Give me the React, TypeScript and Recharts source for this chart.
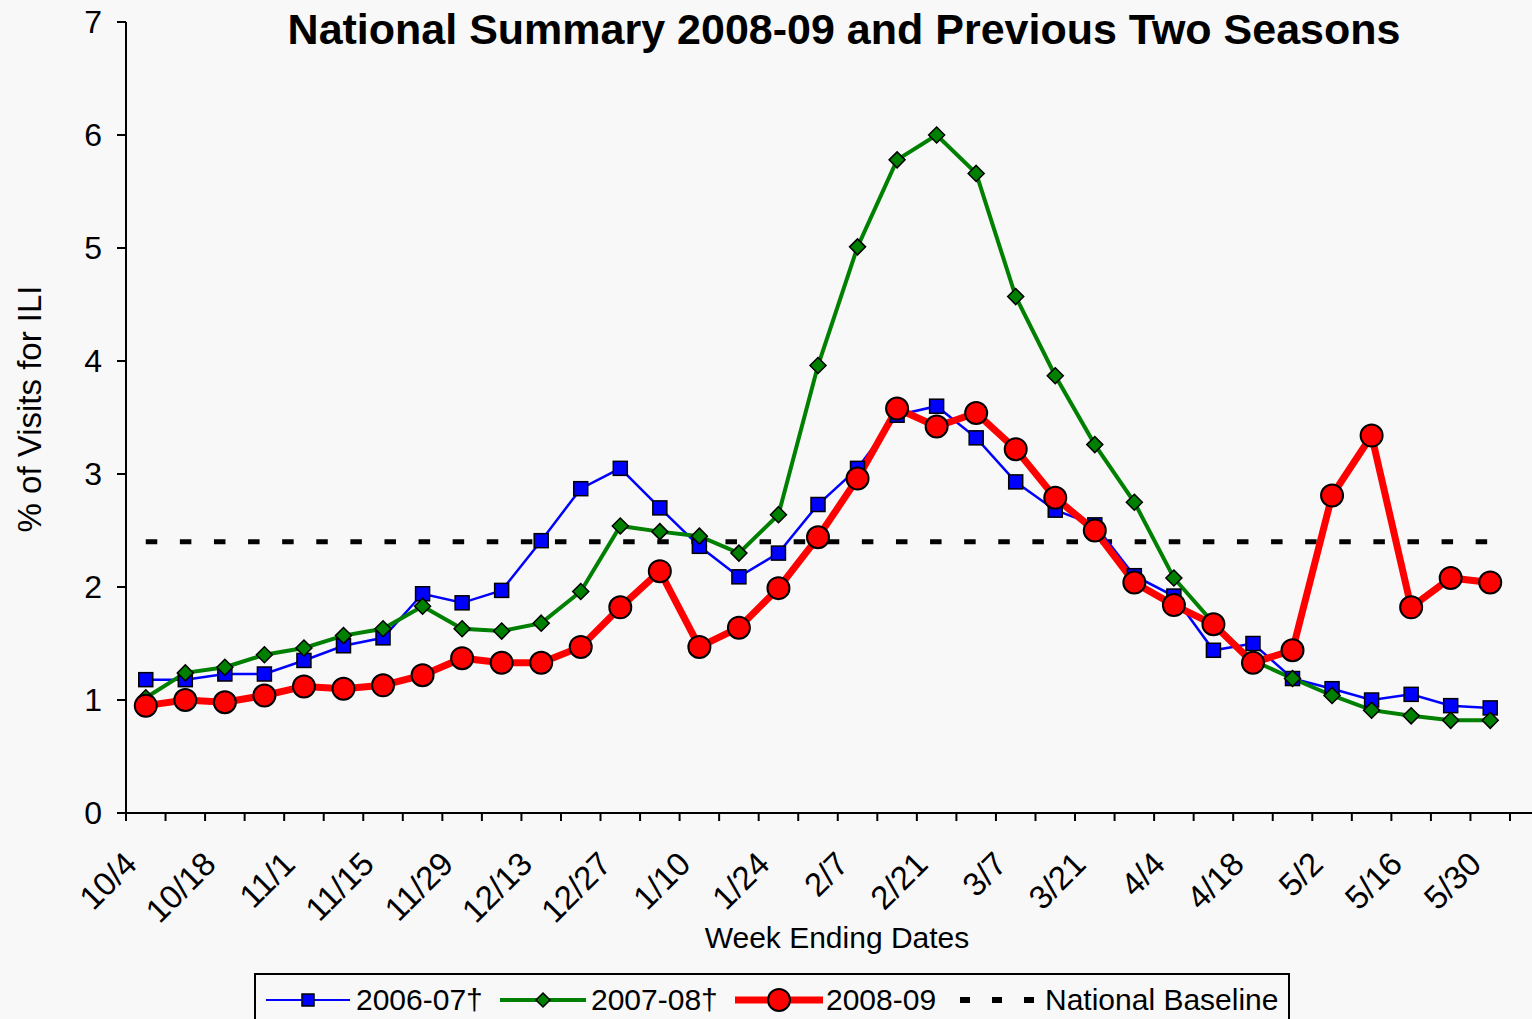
import { LineChart, Line, XAxis, YAxis, Legend, Label } from 'recharts';

const weeks = [
  '10/4', '10/11', '10/18', '10/25', '11/1', '11/8', '11/15', '11/22', '11/29',
  '12/6', '12/13', '12/20', '12/27', '1/3', '1/10', '1/17', '1/24', '1/31',
  '2/7', '2/14', '2/21', '2/28', '3/7', '3/14', '3/21', '3/28', '4/4', '4/11',
  '4/18', '4/25', '5/2', '5/9', '5/16', '5/23', '5/30',
];

const season0607 = [
  1.18, 1.18, 1.23, 1.23, 1.35, 1.48, 1.55, 1.94, 1.86, 1.97, 2.41, 2.87, 3.05,
  2.7, 2.36, 2.09, 2.3, 2.73, 3.05, 3.52, 3.6, 3.32, 2.93, 2.68, 2.55, 2.1, 1.92,
  1.44, 1.5, 1.19, 1.1, 1.0, 1.05, 0.95, 0.93,
];

const season0708 = [
  1.02, 1.24, 1.29, 1.4, 1.46, 1.57, 1.63, 1.83, 1.63, 1.61, 1.68, 1.96, 2.54,
  2.49, 2.45, 2.3, 2.64, 3.96, 5.01, 5.78, 6.0, 5.66, 4.57, 3.87, 3.26, 2.75, 2.08,
  1.68, 1.35, 1.19, 1.04, 0.91, 0.86, 0.82, 0.82,
];

const season0809 = [
  0.95, 1.0, 0.98, 1.04, 1.12, 1.1, 1.13, 1.22, 1.37, 1.33, 1.33, 1.47, 1.82,
  2.14, 1.47, 1.64, 1.99, 2.44, 2.96, 3.58, 3.42, 3.54, 3.22, 2.79, 2.5, 2.04, 1.84,
  1.67, 1.33, 1.44, 2.81, 3.34, 1.82, 2.08, 2.04,
];

const nationalBaseline = 2.4;
const yTicks = [0, 1, 2, 3, 4, 5, 6, 7];

const rows = weeks.map((week, i) => ({
  week,
  s0607: season0607[i],
  s0708: season0708[i],
  s0809: season0809[i],
  baseline: nationalBaseline,
}));

const FONT = "'Liberation Sans', Arial, Helvetica, sans-serif";
const BG = '#f8f8f8';

function SquareDot(props: any) {
  const { cx, cy, index } = props;
  if (cx == null || cy == null) return null;
  return (
    <rect key={'sq' + index} x={cx - 7} y={cy - 7} width={14} height={14}
      fill="#0000ff" stroke="#000" strokeWidth={1.5} />
  );
}

function DiamondDot(props: any) {
  const { cx, cy, index } = props;
  if (cx == null || cy == null) return null;
  const d = 8;
  return (
    <polygon key={'dm' + index}
      points={`${cx},${cy - d} ${cx + d},${cy} ${cx},${cy + d} ${cx - d},${cy}`}
      fill="#008000" stroke="#000" strokeWidth={1.5} />
  );
}

// ticks sit between categories, labels on every other week
function WeekTick(props: any) {
  const { x, y, payload, index } = props;
  const half = payload.offset || 19.77;
  const lx = x - 7;
  const ly = y + 53;
  const last = index === weeks.length - 1;
  return (
    <g>
      <line x1={x - half} y1={y} x2={x - half} y2={y + 8} stroke="#000" strokeWidth={2} />
      {last && (
        <>
          <line x1={x + half} y1={y} x2={x + half} y2={y + 8} stroke="#000" strokeWidth={2} />
          <line x1={x + half} y1={y} x2={x + half + 30} y2={y} stroke="#000" strokeWidth={2} />
        </>
      )}
      {index % 2 === 0 && (
        <text x={lx} y={ly} transform={`rotate(-45 ${lx} ${ly})`} textAnchor="end"
          fontSize={33} fontFamily={FONT} fill="#000">
          {payload.value}
        </text>
      )}
    </g>
  );
}

function LegendBox() {
  const text = { position: 'absolute' as const, top: 0, height: 50, lineHeight: '50px', fontSize: 30, fontFamily: FONT, color: '#000', whiteSpace: 'nowrap' as const };
  const sample = { position: 'absolute' as const, top: 0 };
  return (
    <div style={{ position: 'relative', width: 1036, height: 70, border: '2px solid #000', boxSizing: 'border-box', background: BG }}>
      <svg style={{ ...sample, left: 10 }} width={84} height={50}>
        <line x1={0} y1={25} x2={84} y2={25} stroke="#0000ff" strokeWidth={2} />
        <rect x={36} y={19} width={12} height={12} fill="#0000ff" stroke="#000" strokeWidth={1.5} />
      </svg>
      <div style={{ ...text, left: 100 }}>2006-07†</div>
      <svg style={{ ...sample, left: 244 }} width={86} height={50}>
        <line x1={0} y1={25} x2={86} y2={25} stroke="#008000" strokeWidth={4} />
        <polygon points="43,18 50,25 43,32 36,25" fill="#008000" stroke="#000" strokeWidth={1.5} />
      </svg>
      <div style={{ ...text, left: 335 }}>2007-08†</div>
      <svg style={{ ...sample, left: 479 }} width={88} height={50}>
        <line x1={0} y1={25} x2={88} y2={25} stroke="#ff0000" strokeWidth={7} />
        <circle cx={44} cy={25} r={11} fill="#ff0000" stroke="#000" strokeWidth={2} />
      </svg>
      <div style={{ ...text, left: 570 }}>2008-09</div>
      <svg style={{ ...sample, left: 702 }} width={80} height={50}>
        <line x1={2} y1={25} x2={80} y2={25} stroke="#000" strokeWidth={6} strokeDasharray="10 22" />
      </svg>
      <div style={{ ...text, left: 789 }}>National Baseline</div>
    </div>
  );
}

export default function App() {
  return (
    <div style={{ position: 'absolute', left: 0, top: 0, width: 1532, height: 1019, overflow: 'hidden', background: BG }}>
      <div style={{ position: 'absolute', left: 0, width: 1688, top: 8, textAlign: 'center', fontFamily: FONT, fontWeight: 'bold', fontSize: 43, lineHeight: '43px', color: '#000', zIndex: 2 }}>
        National Summary 2008-09 and Previous Two Seasons
      </div>
      <LineChart width={1532} height={1019} data={rows}
        margin={{ top: 22, right: 22, bottom: 0, left: 0 }}>
        <XAxis dataKey="week" scale="band" interval={0} height={206}
          tickSize={0} tickMargin={0} tickLine={false}
          axisLine={{ stroke: '#000', strokeWidth: 2 }} tick={<WeekTick />}>
          <Label content={() => (
            <text x={837} y={948} textAnchor="middle" fontSize={30} fontFamily={FONT} fill="#000">
              Week Ending Dates
            </text>
          )} />
        </XAxis>
        <YAxis type="number" domain={[0, 7]} ticks={yTicks} width={126} tickSize={9} tickMargin={15}
          axisLine={{ stroke: '#000', strokeWidth: 2 }} tickLine={{ stroke: '#000', strokeWidth: 2 }}
          tick={{ fontSize: 32, fill: '#000', fontFamily: FONT }}>
          <Label content={() => (
            <text x={41} y={409} transform="rotate(-90 41 409)" textAnchor="middle"
              fontSize={33} fontFamily={FONT} fill="#000">
              % of Visits for ILI
            </text>
          )} />
        </YAxis>
        <Line dataKey="baseline" name="National Baseline" stroke="#000" strokeWidth={5}
          strokeDasharray="11.5 22.6" dot={false} activeDot={false} isAnimationActive={false} />
        <Line dataKey="s0607" name="2006-07†" stroke="#0000ff" strokeWidth={2.5}
          dot={SquareDot} activeDot={false} isAnimationActive={false} />
        <Line dataKey="s0708" name="2007-08†" stroke="#008000" strokeWidth={4}
          dot={DiamondDot} activeDot={false} isAnimationActive={false} />
        <Line dataKey="s0809" name="2008-09" stroke="#ff0000" strokeWidth={7}
          dot={{ r: 11, fill: '#ff0000', stroke: '#000', strokeWidth: 2 }} activeDot={false}
          isAnimationActive={false} />
        <Legend layout="horizontal" verticalAlign="middle" align="center"
          wrapperStyle={{ left: 254, top: 973, width: 1036 }} content={() => <LegendBox />} />
      </LineChart>
    </div>
  );
}
